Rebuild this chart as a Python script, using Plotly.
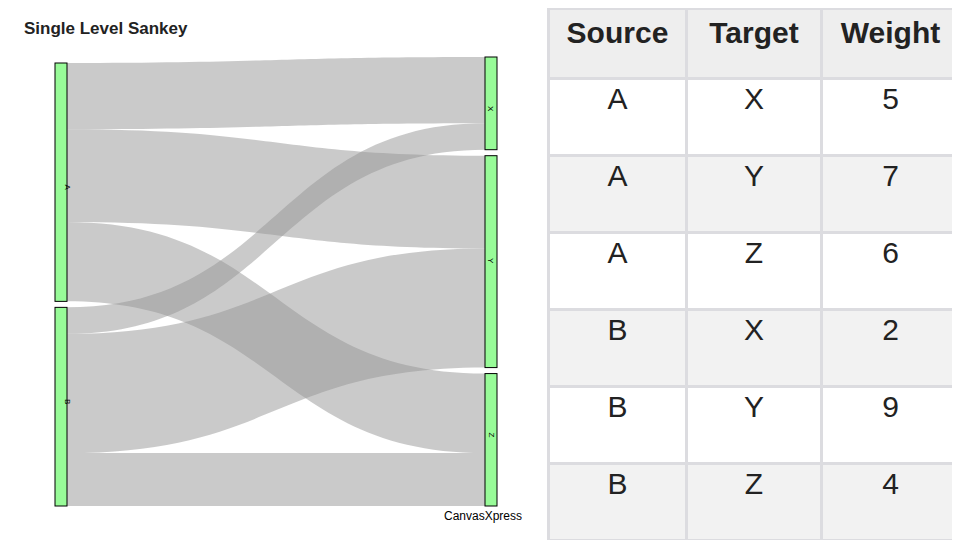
import plotly.graph_objects as go

nodes = ["A", "B", "X", "Y", "Z"]
sources = ["A", "A", "A", "B", "B", "B"]
targets = ["X", "Y", "Z", "X", "Y", "Z"]
weights = [5, 7, 6, 2, 9, 4]

W, H = 952, 532
def px(x): return (x - 8) / W
def py(y): return 1 - (y - 8) / H

idx = {n: i for i, n in enumerate(nodes)}
fig = go.Figure()
fig.add_trace(go.Sankey(
    domain=dict(x=[px(55), px(497)], y=[py(506), py(57)]),
    node=dict(label=["", "", "", "", ""], pad=6, thickness=12,
              color="#98FB98", line=dict(color="black", width=1)),
    link=dict(source=[idx[s] for s in sources], target=[idx[t] for t in targets],
              value=weights, color="rgba(150,150,150,0.5)"),
))
fig.add_trace(go.Table(
    domain=dict(x=[px(548), 1.0], y=[0, 1]),
    columnwidth=[1.45, 1.4, 1.45],
    header=dict(values=["<b>Source</b>", "<b>Target</b>", "<b>Weight</b>"],
                fill_color="#eeeeee", line=dict(color="#dcdce0", width=3),
                font=dict(size=30, color="#222", family="Arial"), height=70, align="center"),
    cells=dict(values=[sources, targets, weights],
               fill_color=[["white", "#f2f2f2"] * 3],
               line=dict(color="#dcdce0", width=3),
               font=dict(size=30, color="#222", family="Arial"), height=77, align="center"),
))
labs = [("A", 61, 182), ("B", 61, 406), ("X", 491, 104), ("Y", 491, 261), ("Z", 491, 439)]
for t, x, y in labs:
    fig.add_annotation(text=t, x=px(x), y=py(y), xref="paper", yref="paper", showarrow=False,
                       textangle=90, font=dict(size=8, color="black", family="Arial"))
fig.add_annotation(text="<b>Single Level Sankey</b>", x=px(22), y=py(28), xref="paper", yref="paper",
                   xanchor="left", yanchor="middle", showarrow=False,
                   font=dict(size=17, color="#222", family="Arial"))
fig.add_annotation(text="CanvasXpress", x=px(483), y=py(516), xref="paper", yref="paper",
                   xanchor="center", yanchor="middle", showarrow=False,
                   font=dict(size=12, color="black", family="Arial"))
fig.update_layout(width=W, height=H, margin=dict(l=0, r=0, t=0, b=0),
                  paper_bgcolor="white", font=dict(family="Arial"))
fig.write_html("out.html")
